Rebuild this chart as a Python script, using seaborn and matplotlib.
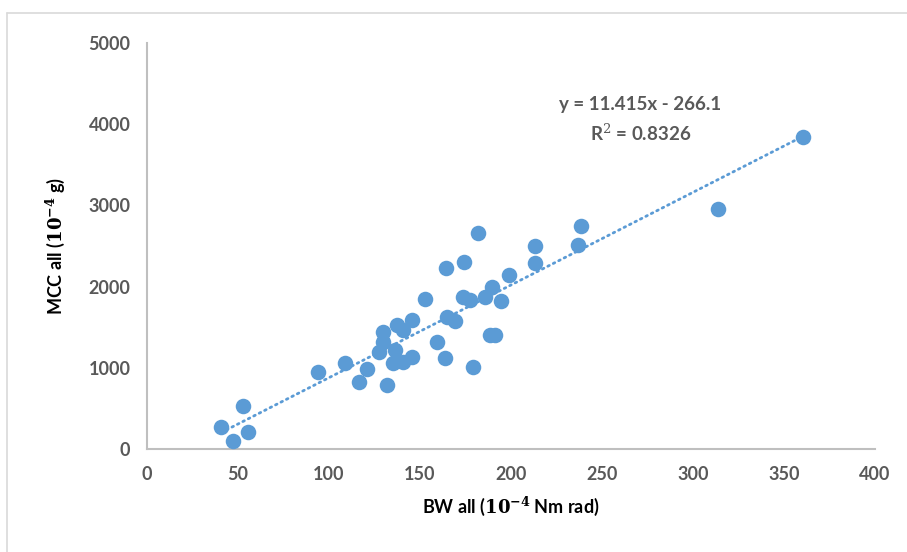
import numpy as np
import pandas as pd
import matplotlib
matplotlib.use("Agg")
import matplotlib.pyplot as plt
import seaborn as sns

# values
bw_all = [40.7, 47.4, 52.6, 55.3, 94.1, 108.8, 120.7, 116.7, 131.7, 127.6,
          129.8, 129.8, 137.2, 140.8, 136.3, 135.3, 140.8, 145.4, 145.4, 152.7,
          159.2, 164.3, 163.7, 164.7, 169.2, 174.2, 173.8, 177.5, 179.0, 182.0,
          185.7, 189.4, 194.3, 188.5, 191.2, 199.0, 213.2, 213.2, 236.6, 238.5,
          313.9, 360.3]
mcc_all = [275, 102, 530, 209, 952, 1055, 985, 829, 788, 1198,
           1445, 1321, 1527, 1466, 1219, 1055, 1075, 1589, 1137, 1847,
           1321, 2225, 1117, 1622, 1580, 2307, 1868, 1835, 1014, 2664,
           1876, 1999, 1826, 1404, 1404, 2143, 2504, 2294, 2516, 2746,
           2952, 3839]
x_ticks = [0, 50, 100, 150, 200, 250, 300, 350, 400]
y_ticks = [0, 1000, 2000, 3000, 4000, 5000]
eq_text = "y = 11.415x - 266.1"
r2_text = "R$^2$ = 0.8326"

df = pd.DataFrame({"bw": bw_all, "mcc": mcc_all})

sns.set_style("white")
plt.rcParams["font.family"] = ["Lato", "DejaVu Sans"]
plt.rcParams["mathtext.fontset"] = "dejavuserif"

blue = "#5B9BD5"
grey = "#595959"

fig = plt.figure(figsize=(9.07, 5.52), dpi=100)
ax = fig.add_axes([147 / 907, 1 - 449 / 552, 728 / 907, 406 / 552])

# scatter + linear trendline (dotted, like the spreadsheet)
sns.regplot(data=df, x="bw", y="mcc", ax=ax, ci=None, truncate=True,
            scatter_kws={"s": 125, "color": blue, "alpha": 1, "linewidths": 0, "zorder": 3},
            line_kws={"color": blue, "lw": 2.0, "linestyle": (0, (0.6, 1.6)),
                      "dash_capstyle": "round", "zorder": 2})

ax.text(271, 4240, eq_text, ha="center", va="center",
        fontsize=13.5, fontweight="bold", color=grey)
ax.text(271, 3895, r2_text, ha="center", va="center",
        fontsize=13.5, fontweight="bold", color=grey)

ax.set_xlim(0, 400)
ax.set_ylim(0, 5000)
ax.set_xticks(x_ticks)
ax.set_yticks(y_ticks)
ax.tick_params(length=0, labelsize=13, labelcolor=grey, pad=12)
for lab in ax.get_xticklabels() + ax.get_yticklabels():
    lab.set_fontweight("bold")

sns.despine(ax=ax)
for s in ["left", "bottom"]:
    ax.spines[s].set_color("#BFBFBF")
    ax.spines[s].set_linewidth(1.5)

ax.set_xlabel(r"BW all ($\mathbf{10^{-4}}$ Nm rad)", fontsize=13,
              fontweight="bold", color="black", labelpad=9)
ax.set_ylabel(r"MCC all ($\mathbf{10^{-4}}$ g)", fontsize=13,
              fontweight="bold", color="black")
ax.yaxis.set_label_coords(-0.110, 0.5)

# chart area border (left and top edges visible)
fig.add_artist(plt.Line2D([7 / 907, 7 / 907], [0, 1 - 13 / 552],
                          color="#D9D9D9", lw=1.2))
fig.add_artist(plt.Line2D([7 / 907, 1], [1 - 13 / 552, 1 - 13 / 552],
                          color="#D9D9D9", lw=1.2))

fig.savefig("out.png", dpi=100)
